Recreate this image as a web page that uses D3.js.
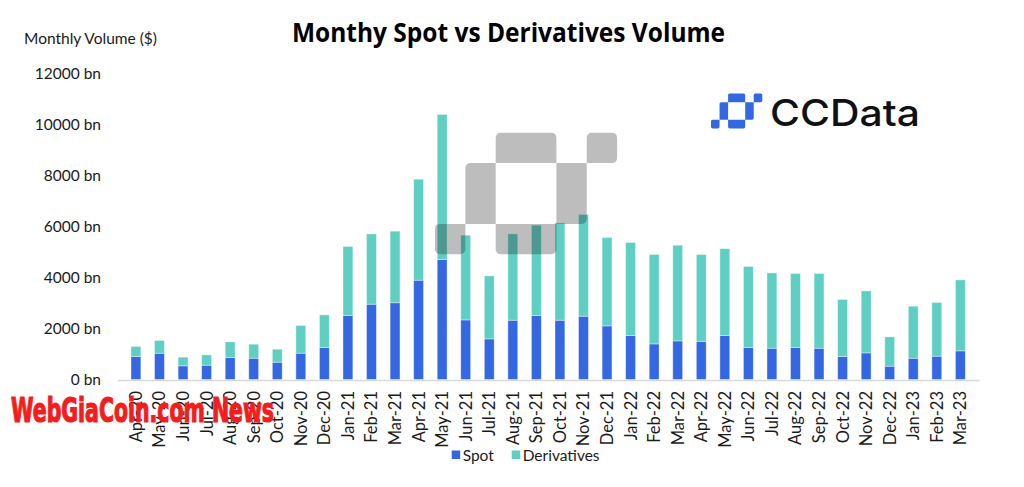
<!DOCTYPE html>
<html>
<head>
<meta charset="utf-8">
<script src="https://cdn.jsdelivr.net/npm/d3@7/dist/d3.min.js"></script>
<style>
  html, body { margin: 0; padding: 0; background: #fff; }
  svg { display: block; }
</style>
</head>
<body>
<svg id="chart" width="1024" height="487"></svg>
<script>
const months = ["Apr-20","May-20","Jun-20","Jul-20","Aug-20","Sep-20","Oct-20","Nov-20","Dec-20",
  "Jan-21","Feb-21","Mar-21","Apr-21","May-21","Jun-21","Jul-21","Aug-21","Sep-21","Oct-21","Nov-21","Dec-21",
  "Jan-22","Feb-22","Mar-22","Apr-22","May-22","Jun-22","Jul-22","Aug-22","Sep-22","Oct-22","Nov-22","Dec-22",
  "Jan-23","Feb-23","Mar-23"];
const spot = [900,1030,535,560,863,835,678,1031,1255,
  2510,2953,3010,3894,4706,2337,1592,2325,2510,2325,2482,2102,
  1725,1396,1513,1496,1725,1255,1227,1255,1227,902,1043,522,
  835,914,1122];
const derivatives = [394,499,340,405,612,549,510,1087,1278,
  2706,2757,2806,3961,5686,3322,2471,3385,3541,3816,3988,3466,
  3647,3506,3753,3406,3405,3176,2953,2902,2930,2235,2432,1149,
  2040,2106,2784];
const yTicks = [0,2000,4000,6000,8000,10000,12000];
const seriesNames = ["Spot","Derivatives"];
const colors = ["#3468e3","#5fcfc4"];

const svg = d3.select("#chart");
const font = "Lato, 'Open Sans', sans-serif";

const rows = months.map((m,i) => ({month:m, Spot:spot[i], Derivatives:derivatives[i]}));
const stack = d3.stack().keys(seriesNames)(rows);

const x = d3.scaleBand().domain(months).range([117.3, 979]).padding(0.582);
const y = d3.scaleLinear().domain([0,12000]).range([379.5, 73.5]);
const color = d3.scaleOrdinal().domain(seriesNames).range(colors);

// Title
svg.append("text").attr("x", 292).attr("y", 41.5)
  .attr("textLength", 433).attr("lengthAdjust","spacingAndGlyphs")
  .style("font-family", "'Open Sans', Lato, sans-serif").style("font-weight","700").style("font-size","27px")
  .attr("fill","#000").text("Monthy Spot vs Derivatives Volume");

// Y axis title
svg.append("text").attr("x", 24).attr("y", 43.5)
  .style("font-family", font).style("font-size","15.5px").attr("fill","#1a1a1a")
  .text("Monthly Volume ($)");

// Y tick labels
const yAxis = d3.axisLeft(y).tickValues(yTicks).tickSize(0).tickPadding(0)
  .tickFormat(d => d + " bn");
const yg = svg.append("g").attr("transform","translate(101,0)").call(yAxis);
yg.select(".domain").remove();
yg.selectAll("text").style("font-family", font).style("font-size","15.5px").attr("fill","#1a1a1a");

// Bars
svg.append("g").selectAll("g").data(stack).join("g")
  .attr("fill", d => color(d.key))
  .selectAll("rect").data(d => d).join("rect")
  .attr("x", d => x(d.data.month))
  .attr("width", x.bandwidth())
  .attr("y", d => y(d[1]))
  .attr("height", d => y(d[0]) - y(d[1]))
  .attr("stroke","rgba(255,255,255,0.45)").attr("stroke-width",0.8);

// X axis
const xAxis = d3.axisBottom(x).tickSize(0).tickPadding(0);
const xg = svg.append("g").attr("transform","translate(0,380)").call(xAxis);
xg.select(".domain").attr("stroke","#d9d9d9").attr("stroke-width",1.6);
xg.selectAll("text")
  .style("font-family", font).style("font-size","16.5px").attr("fill","#1a1a1a")
  .attr("transform","rotate(-90)")
  .attr("text-anchor","end")
  .attr("x", -11).attr("y", 0).attr("dy","0.36em");

// Legend
const legend = svg.append("g");
const legendX = [451.7, 511.7];
seriesNames.forEach((s,i) => {
  legend.append("rect").attr("x", legendX[i]).attr("y", 450.5).attr("width", 8.5).attr("height", 8.5).attr("fill", color(s));
  legend.append("text").attr("x", legendX[i] + 11).attr("y", 460.5)
    .style("font-family", font).style("font-size","15.5px").attr("fill","#1a1a1a").text(s);
});

// Logo shapes (unit grid); corners: [tl, tr, br, bl] rounded flags
const logoCells = [
  {c:2, r:0, w:2, h:1, k:[1,1,0,0]},
  {c:5, r:0, w:1, h:1, k:[1,1,1,0]},
  {c:1, r:1, w:1, h:2, k:[1,0,0,0]},
  {c:4, r:1, w:1, h:2, k:[0,0,1,0]},
  {c:0, r:3, w:1, h:1, k:[1,0,1,1]},
  {c:2, r:3, w:2, h:1, k:[0,0,1,1]}
];
function rrPath(x0, y0, w, h, r, k) {
  const [tl,tr,br,bl] = k.map(v => v ? r : 0);
  const p = d3.path();
  p.moveTo(x0 + tl, y0);
  p.lineTo(x0 + w - tr, y0);
  if (tr) p.arcTo(x0 + w, y0, x0 + w, y0 + tr, tr);
  p.lineTo(x0 + w, y0 + h - br);
  if (br) p.arcTo(x0 + w, y0 + h, x0 + w - br, y0 + h, br);
  p.lineTo(x0 + bl, y0 + h);
  if (bl) p.arcTo(x0, y0 + h, x0, y0 + h - bl, bl);
  p.lineTo(x0, y0 + tl);
  if (tl) p.arcTo(x0, y0, x0 + tl, y0, tl);
  p.closePath();
  return p.toString();
}
function drawLogo(g, x0, y0, ux, uy, rad, fill, opacity) {
  g.attr("opacity", opacity);
  g.selectAll("path").data(logoCells).join("path")
    .attr("d", d => rrPath(x0 + d.c*ux, y0 + d.r*uy, d.w*ux, d.h*uy, rad, d.k))
    .attr("fill", fill);
}
// Big faint overlay
drawLogo(svg.append("g"), 435, 132.7, 30.35, 30.4, 5, "rgb(22,22,22)", 0.28);
// Small blue logo
drawLogo(svg.append("g"), 711, 93.4, 8.55, 8.75, 1.6, "#3468e3", 1);
svg.append("text").attr("x", 770).attr("y", 125.5)
  .attr("textLength", 150).attr("lengthAdjust","spacingAndGlyphs")
  .style("font-family","Inter, 'Open Sans', sans-serif").style("font-weight","500").style("font-size","37px")
  .attr("fill","#111").text("CCData");

// Watermark
svg.append("text").attr("x", 11).attr("y", 421.5)
  .attr("textLength", 263).attr("lengthAdjust","spacingAndGlyphs")
  .style("font-family","'DejaVu Sans Condensed', 'DejaVu Sans', sans-serif").style("font-weight","700").style("font-size","33px")
  .attr("fill","#f51c1c").attr("stroke","#f51c1c").attr("stroke-width",1.2)
  .text("WebGiaCoin.com News");
</script>
</body>
</html>
